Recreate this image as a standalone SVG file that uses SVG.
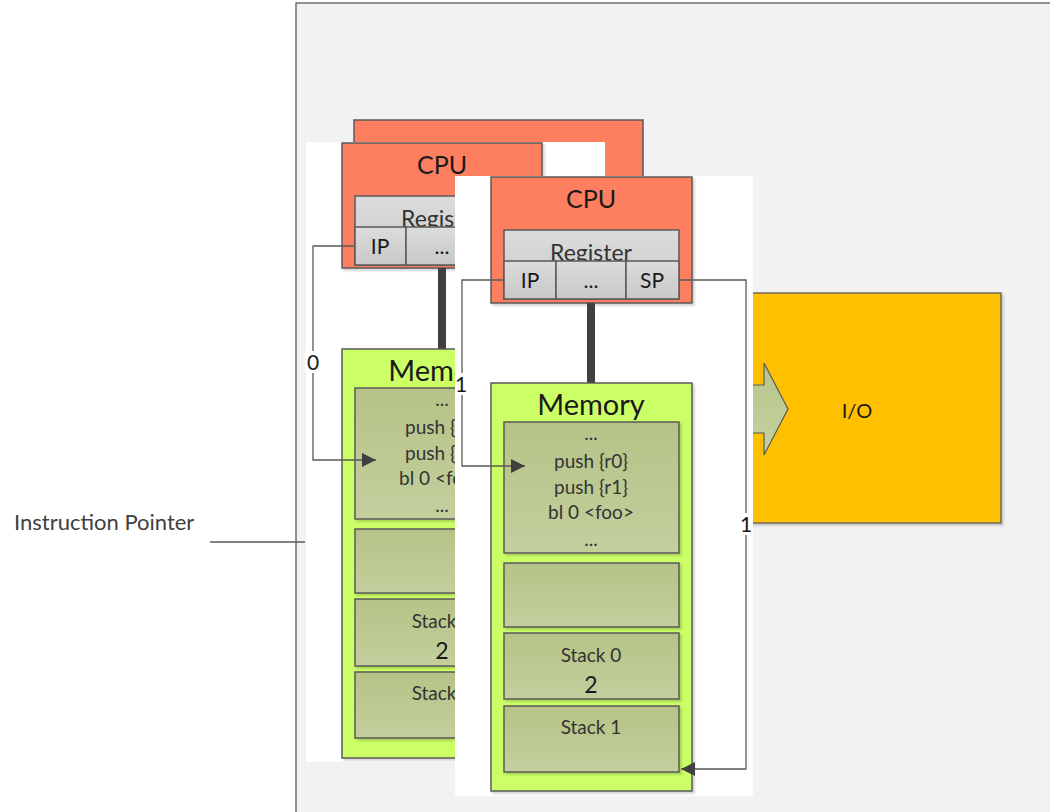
<svg xmlns="http://www.w3.org/2000/svg" width="1050" height="812" viewBox="0 0 1050 812">
<defs>
<style>
.t{font-family:Lato,"Open Sans","Liberation Sans",sans-serif;text-anchor:middle;fill:#1a1a1a}
.cpu{fill:#fe7f5f;stroke:#595959;stroke-width:1.5}
.mem{fill:#ccff66;stroke:#595959;stroke-width:1.5}
.reg{fill:url(#gReg);stroke:#595959;stroke-width:1.5}
.cell{fill:url(#gCell);stroke:#595959;stroke-width:1.5}
.line{fill:none;stroke:#595959;stroke-width:1.3}
.bus{stroke:#404040;stroke-width:8}
.sh{filter:url(#ds)}
.code{font-size:19px;fill:#333}
.big{font-size:25px}
.memt{font-size:29px}
.regt{font-size:23px;fill:#333}
.cellt{font-size:21px}
.lbl{font-size:21px}
</style>
<linearGradient id="gReg" x1="0" y1="0" x2="0" y2="1"><stop offset="0" stop-color="#dcdcdc"/><stop offset="1" stop-color="#c8c8c8"/></linearGradient>
<linearGradient id="gCell" x1="0" y1="0" x2="0" y2="1"><stop offset="0" stop-color="#b5c387"/><stop offset="1" stop-color="#c3cf9d"/></linearGradient>
<linearGradient id="gArr" x1="0" y1="0" x2="0" y2="1"><stop offset="0" stop-color="#b7c58b"/><stop offset="1" stop-color="#c6d1a0"/></linearGradient>
<filter id="ds" x="-10%" y="-10%" width="125%" height="125%"><feDropShadow dx="2" dy="2" stdDeviation="1.2" flood-color="#000" flood-opacity="0.18"/></filter>
<marker id="ah" viewBox="0 0 10 10" refX="10" refY="5" markerWidth="14" markerHeight="14" markerUnits="userSpaceOnUse" orient="auto"><path d="M0,0 L10,5 L0,10 Z" fill="#404040"/></marker>
</defs>

<g id="panel">
<rect x="296" y="3" width="760" height="815" fill="#f2f2f2" stroke="#595959" stroke-width="1.3"/>
</g>

<g id="label-ip">
<text x="14" y="530" style="font-family:Lato,'Open Sans','Liberation Sans',sans-serif;font-size:22px;fill:#404040">Instruction Pointer</text>
<line x1="210" y1="542" x2="305" y2="542" stroke="#595959" stroke-width="1.3"/>
</g>

<g id="cpu-back2">
<rect class="cpu" x="354" y="120" width="289" height="150"/>
</g>

<g id="core0">
<rect x="306" y="142" width="299" height="620" fill="#ffffff"/>
<g id="cpu0">
<rect class="cpu sh" x="342" y="143" width="200" height="125"/>
<text class="t big" x="442" y="174">CPU</text>
<rect class="reg" x="355" y="196" width="175" height="69"/>
<text class="t regt" x="442" y="227">Register</text>
<rect class="reg" x="355" y="227" width="51" height="38"/>
<rect class="reg" x="406" y="227" width="72" height="38"/>
<rect class="reg" x="478" y="227" width="52" height="38"/>
<text class="t cellt" x="380" y="254">IP</text>
<text class="t cellt" x="442" y="254">...</text>
<text class="t cellt" x="504" y="254">SP</text>
</g>
<line class="bus" x1="442" y1="268" x2="442" y2="349"/>
<g id="mem0">
<rect class="mem sh" x="342" y="349" width="201" height="409"/>
<text class="t memt" x="442" y="381">Memory</text>
<rect class="cell sh" x="355" y="388" width="175" height="131"/>
<text class="t code" x="442" y="406">...</text>
<text class="t code" x="442" y="434">push {r0}</text>
<text class="t code" x="442" y="460">push {r1}</text>
<text class="t code" x="442" y="485">bl 0 &lt;foo&gt;</text>
<text class="t code" x="442" y="512">...</text>
<rect class="cell sh" x="355" y="529" width="175" height="64"/>
<rect class="cell sh" x="355" y="599" width="175" height="67"/>
<text class="t code" x="442" y="628">Stack 0</text>
<text class="t" x="442" y="659" font-size="23">2</text>
<rect class="cell sh" x="355" y="672" width="175" height="66"/>
<text class="t code" x="442" y="700">Stack 1</text>
</g>
</g>

<g id="io">
<rect x="700" y="293" width="301" height="230" fill="#ffc000" stroke="#595959" stroke-width="1.3" class="sh"/>
<path d="M700,385 L764,385 L764,363 L788,409 L764,455 L764,433 L700,433 Z" fill="url(#gArr)" stroke="#595959" stroke-width="1.2"/>
<text class="t" x="857" y="418" font-size="20">I/O</text>
</g>

<g id="core1">
<rect x="455" y="176" width="298" height="620" fill="#ffffff"/>
<g id="cpu1">
<rect class="cpu sh" x="491" y="177" width="201" height="126"/>
<text class="t big" x="591" y="208">CPU</text>
<rect class="reg" x="504" y="230" width="175" height="69"/>
<text class="t regt" x="591" y="261">Register</text>
<rect class="reg" x="504" y="261" width="52" height="38"/>
<rect class="reg" x="556" y="261" width="70" height="38"/>
<rect class="reg" x="626" y="261" width="53" height="38"/>
<text class="t cellt" x="530" y="288">IP</text>
<text class="t cellt" x="591" y="288">...</text>
<text class="t cellt" x="652" y="288">SP</text>
</g>
<line class="bus" x1="591" y1="303" x2="591" y2="383"/>
<g id="mem1">
<rect class="mem sh" x="491" y="383" width="201" height="408"/>
<text class="t memt" x="591" y="415">Memory</text>
<rect class="cell sh" x="504" y="422" width="175" height="131"/>
<text class="t code" x="591" y="440">...</text>
<text class="t code" x="591" y="468">push {r0}</text>
<text class="t code" x="591" y="494">push {r1}</text>
<text class="t code" x="591" y="519">bl 0 &lt;foo&gt;</text>
<text class="t code" x="591" y="546">...</text>
<rect class="cell sh" x="504" y="563" width="175" height="64"/>
<rect class="cell sh" x="504" y="633" width="175" height="66"/>
<text class="t code" x="591" y="662">Stack 0</text>
<text class="t" x="591" y="693" font-size="23">2</text>
<rect class="cell sh" x="504" y="706" width="175" height="66"/>
<text class="t code" x="591" y="734">Stack 1</text>
</g>
</g>

<g id="connectors">
<path class="line" d="M355,246 L313,246 L313,460 L376,460" marker-end="url(#ah)"/>
<rect x="305" y="351" width="16" height="22" fill="#ffffff"/>
<text class="t lbl" x="313" y="370">0</text>
<path class="line" d="M504,280 L462,280 L462,466 L525,466" marker-end="url(#ah)"/>
<rect x="455" y="373" width="14" height="22" fill="#ffffff"/>
<text class="t lbl" x="461" y="392">1</text>
<path class="line" d="M679,280 L746,280 L746,769 L681,769" marker-end="url(#ah)"/>
<rect x="739" y="513" width="14" height="22" fill="#ffffff"/>
<text class="t lbl" x="746" y="532">1</text>
</g>
</svg>
